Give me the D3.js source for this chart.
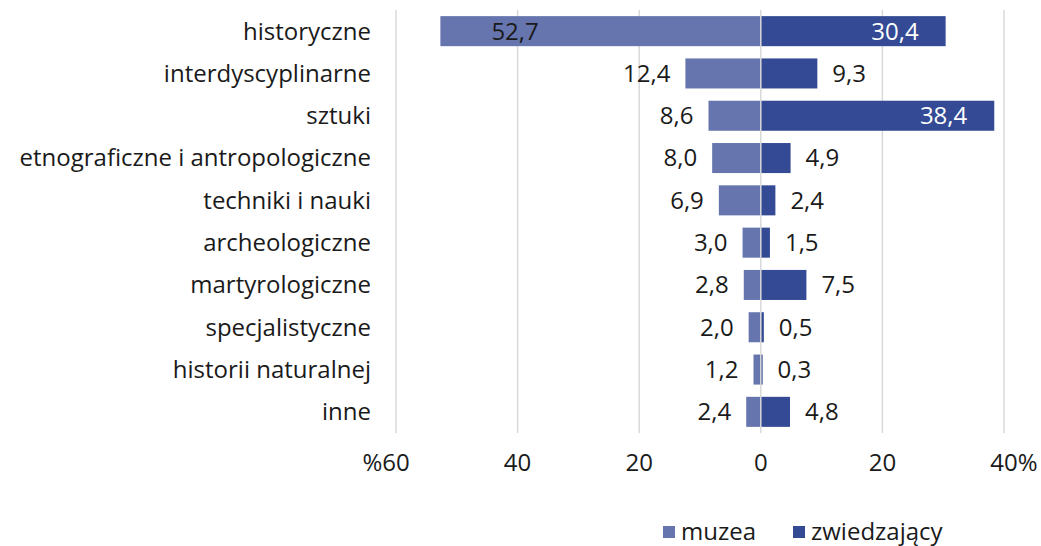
<!DOCTYPE html>
<html>
<head>
<meta charset="utf-8">
<script src="https://cdn.jsdelivr.net/npm/d3@7"></script>
<style>
  body { margin: 0; background: #fff; }
  text { font-family: "Open Sans", sans-serif; fill: #1a1a1a; font-size: 24px; }
</style>
</head>
<body>
<svg id="chart" width="1041" height="546"></svg>
<script>
var categories = ["historyczne", "interdyscyplinarne", "sztuki", "etnograficzne i antropologiczne",
  "techniki i nauki", "archeologiczne", "martyrologiczne", "specjalistyczne", "historii naturalnej", "inne"];
var muzea = [52.7, 12.4, 8.6, 8.0, 6.9, 3.0, 2.8, 2.0, 1.2, 2.4];
var zwiedzajacy = [30.4, 9.3, 38.4, 4.9, 2.4, 1.5, 7.5, 0.5, 0.3, 4.8];
var ticks = [-60, -40, -20, 0, 20, 40];
var tickLabels = ["%60", "40", "20", "0", "20", "40%"];
var seriesNames = ["muzea", "zwiedzający"];
var colors = ["#6675ae", "#344a94"];

var svg = d3.select("#chart");
var fmt = function(v) { return v.toFixed(1).replace(".", ","); };

var x = d3.scaleLinear().domain([-60, 40]).range([396, 1004]);
var y = d3.scaleBand().domain(categories).range([10, 433]).paddingInner(0.29).paddingOuter(0.145);
var mid = function(d) { return y(d) + y.bandwidth() / 2; };

// gridlines
svg.append("g").selectAll("line")
  .data(ticks.filter(function(t) { return t !== 0; }))
  .enter().append("line")
  .attr("x1", function(d) { return x(d); }).attr("x2", function(d) { return x(d); })
  .attr("y1", 10).attr("y2", 433)
  .attr("stroke", "#d9d9d9").attr("stroke-width", 1.5);

// bars
svg.append("g").selectAll("rect")
  .data(categories)
  .enter().append("rect")
  .attr("x", function(d, i) { return x(-muzea[i]); })
  .attr("width", function(d, i) { return x(0) - x(-muzea[i]); })
  .attr("y", function(d) { return y(d); })
  .attr("height", y.bandwidth())
  .attr("fill", colors[0]);

svg.append("g").selectAll("rect")
  .data(categories)
  .enter().append("rect")
  .attr("x", x(0))
  .attr("width", function(d, i) { return x(zwiedzajacy[i]) - x(0); })
  .attr("y", function(d) { return y(d); })
  .attr("height", y.bandwidth())
  .attr("fill", colors[1]);

// zero line on top of bars
svg.append("line")
  .attr("x1", x(0)).attr("x2", x(0)).attr("y1", 10).attr("y2", 433)
  .attr("stroke", "#d9d9d9").attr("stroke-width", 1.5);

// category labels
svg.append("g").selectAll("text")
  .data(categories)
  .enter().append("text")
  .attr("x", 371)
  .attr("y", mid)
  .attr("dy", "0.35em")
  .attr("text-anchor", "end")
  .text(function(d) { return d; });

// value labels, muzea
svg.append("g").selectAll("text")
  .data(categories)
  .enter().append("text")
  .attr("x", function(d, i) {
    return muzea[i] > 40 ? x(-muzea[i]) + 51 : x(-muzea[i]) - 15;
  })
  .attr("y", mid)
  .attr("dy", "0.35em")
  .attr("text-anchor", function(d, i) { return muzea[i] > 40 ? "start" : "end"; })
  .text(function(d, i) { return fmt(muzea[i]); });

// value labels, zwiedzajacy
svg.append("g").selectAll("text")
  .data(categories)
  .enter().append("text")
  .attr("x", function(d, i) {
    return zwiedzajacy[i] > 25 ? x(zwiedzajacy[i]) - 27 : x(zwiedzajacy[i]) + 15;
  })
  .attr("y", mid)
  .attr("dy", "0.35em")
  .attr("text-anchor", function(d, i) { return zwiedzajacy[i] > 25 ? "end" : "start"; })
  .style("fill", function(d, i) { return zwiedzajacy[i] > 25 ? "#ffffff" : "#1a1a1a"; })
  .text(function(d, i) { return fmt(zwiedzajacy[i]); });

// x tick labels: digits centred on the gridline, % sign hanging outside
var probe = svg.append("text").text("60");
var digitW = probe.node().getComputedTextLength();
probe.remove();

svg.append("g").selectAll("text")
  .data(ticks)
  .enter().append("text")
  .attr("x", function(d, i) {
    var s = tickLabels[i];
    if (s.charAt(0) === "%") return x(d) + digitW / 2;
    if (s.charAt(s.length - 1) === "%") return x(d) - digitW / 2;
    return x(d);
  })
  .attr("y", 463)
  .attr("dy", "0.35em")
  .attr("text-anchor", function(d, i) {
    var s = tickLabels[i];
    if (s.charAt(0) === "%") return "end";
    if (s.charAt(s.length - 1) === "%") return "start";
    return "middle";
  })
  .text(function(d, i) { return tickLabels[i]; });

// legend
var legendX = [663, 793];
var lg = svg.append("g").selectAll("g")
  .data(seriesNames)
  .enter().append("g")
  .attr("transform", function(d, i) { return "translate(" + legendX[i] + ",532)"; });
lg.append("rect").attr("x", 0).attr("y", -6).attr("width", 12).attr("height", 12)
  .attr("fill", function(d, i) { return colors[i]; });
lg.append("text").attr("x", 18).attr("dy", "0.35em")
  .text(function(d) { return d; });
</script>
</body>
</html>
